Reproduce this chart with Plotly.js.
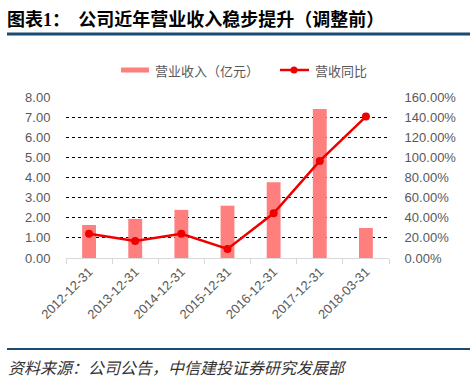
<!DOCTYPE html>
<html><head><meta charset="utf-8">
<script src="https://cdn.plot.ly/plotly-3.0.1.min.js"></script>
<style>html,body{margin:0;padding:0;background:#fff}#c{width:470px;height:380px}</style>
</head><body><div id="c"></div>
<script>
const categories = ['2012-12-31','2013-12-31','2014-12-31','2015-12-31','2016-12-31','2017-12-31','2018-03-31'];
const revenue = [1.64, 1.94, 2.39, 2.60, 3.77, 7.40, 1.49];
const yoy = [24.0, 17.0, 24.0, 9.0, 44.5, 96.5, 140.5];
const leftTicks = [0,1,2,3,4,5,6,7,8];
const rightTicks = [0,20,40,60,80,100,120,140,160];
const seriesNames = ['营业收入（亿元）', '营收同比'];

const W = 470, H = 380, L = 66, R = 81, T = 97, B = 122;
const pw = W - L - R, ph = H - T - B;
const px = x => (x - L) / pw;
const py = y => (H - B - y) / ph;
const font = "Arial, 'Liberation Sans', sans-serif";
const cjk = "'Noto Sans CJK SC', sans-serif";
const barColor = '#ff7f7f', lineColor = '#ee0000';

const traces = [
  {type:'bar', x:categories, y:revenue, name:seriesNames[0], marker:{color:barColor}, width:0.3, yaxis:'y'},
  {type:'scatter', mode:'lines+markers', x:categories, y:yoy, name:seriesNames[1], yaxis:'y2',
   line:{color:lineColor, width:2.5}, marker:{color:lineColor, size:8}}
];

const tickFont = {family:font, size:13, color:'#595959'};
const layout = {
  width:W, height:H, margin:{l:L, r:R, t:T, b:B},
  paper_bgcolor:'#fff', plot_bgcolor:'#fff',
  showlegend:false,
  title:{text:'<b>图表<span style="font-family:Liberation Serif,Times New Roman,serif">1</span>：  公司近年营业收入稳步提升（调整前）</b>',
         x:7/W, xanchor:'left', xref:'container',
         y:1-20/H, yref:'container', yanchor:'middle', font:{family:cjk, size:18, color:'#000'}},
  xaxis:{type:'category', categoryarray:categories, showline:true, linecolor:'#d9d9d9', linewidth:1,
         ticks:'outside', tickson:'boundaries', ticklen:5, tickcolor:'#d9d9d9', tickangle:-45,
         tickfont:tickFont, showgrid:false, zeroline:false},
  yaxis:{range:[0,8], tickvals:leftTicks, ticktext:leftTicks.map(v=>v.toFixed(2)),
         showgrid:true, gridcolor:'#000', griddash:'dot',
         gridwidth:1, zeroline:false, showline:false, ticks:'outside', ticklen:12, tickcolor:'rgba(0,0,0,0)',
         tickfont:tickFont},
  yaxis2:{range:[0,160], tickvals:rightTicks, ticktext:rightTicks.map(v=>v.toFixed(2)+'%'),
          overlaying:'y', side:'right', ticks:'outside', ticklen:12, tickcolor:'rgba(0,0,0,0)',
          showgrid:false, zeroline:false, showline:false, tickfont:tickFont},
  shapes:[
    {type:'line', xref:'paper', yref:'paper', x0:px(7), x1:px(470), y0:py(34), y1:py(34), line:{color:'#1b4a72', width:3}},
    {type:'line', xref:'paper', yref:'paper', x0:px(7), x1:px(470), y0:py(349), y1:py(349), line:{color:'#1b4a72', width:2}},
    {type:'rect', xref:'paper', yref:'paper', x0:px(121), x1:px(149), y0:py(67.5), y1:py(72.5), fillcolor:barColor, line:{width:0}},
    {type:'line', xref:'paper', yref:'paper', x0:px(280), x1:px(309), y0:py(70), y1:py(70), line:{color:lineColor, width:2.5}},
    {type:'circle', xref:'paper', yref:'paper', x0:px(290.5), x1:px(297.5), y0:py(66.5), y1:py(73.5), fillcolor:lineColor, line:{width:0}}
  ],
  annotations:[
    {text:seriesNames[0], xref:'paper', yref:'paper', x:px(153), y:py(70), xanchor:'left', yanchor:'middle',
     showarrow:false, font:{family:cjk, size:13, color:'#595959'}},
    {text:seriesNames[1], xref:'paper', yref:'paper', x:px(313), y:py(70), xanchor:'left', yanchor:'middle',
     showarrow:false, font:{family:cjk, size:13, color:'#595959'}},
    {text:'<i>资料来源：公司公告，中信建投证券研究发展部</i>', xref:'paper', yref:'paper', x:px(6), y:py(367),
     xanchor:'left', yanchor:'middle', showarrow:false, font:{family:cjk, size:16, color:'#333'}}
  ]
};
Plotly.newPlot('c', traces, layout, {displayModeBar:false, staticPlot:true});
</script></body></html>
